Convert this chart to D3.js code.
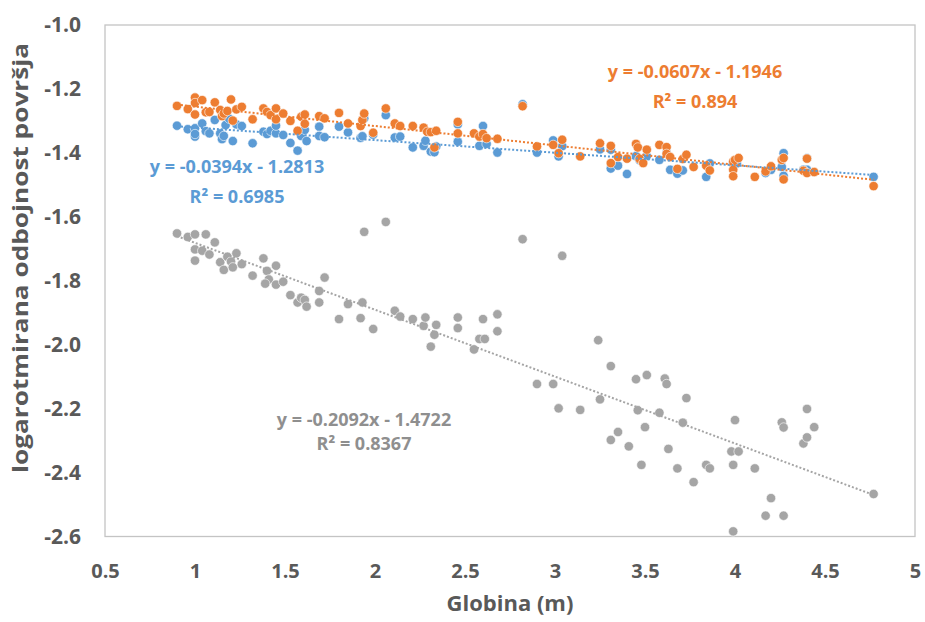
<!DOCTYPE html>
<html>
<head>
<meta charset="utf-8">
<script src="https://cdn.jsdelivr.net/npm/d3@7"></script>
<style>
    body { margin: 0; background: #fff; }
    text { font-family: "Open Sans", "DejaVu Sans", sans-serif; font-weight: 700; }
</style>
</head>
<body>
<script>
//wrap everything in a self-executing anonymous function to move to local scope
(function(){

    //pseudo-global variables: data
    var xTicks = [0.5, 1, 1.5, 2, 2.5, 3, 3.5, 4, 4.5, 5];
    var yTicks = [-1.0, -1.2, -1.4, -1.6, -1.8, -2.0, -2.2, -2.4, -2.6];

    //blue series (depth, value)
    var blueX = [0.90,0.96,1.00,1.00,1.00,1.04,1.06,1.08,1.11,1.14,1.15,1.16,1.17,1.19,1.21,1.23,1.26,1.32,1.38,1.40,
        1.42,1.45,1.45,1.49,1.53,1.57,1.59,1.61,1.62,1.69,1.69,1.72,1.80,1.85,1.92,1.93,1.94,1.99,2.06,2.11,
        2.14,2.21,2.27,2.28,2.31,2.33,2.34,2.46,2.46,2.58,2.60,2.62,2.68,2.82,2.90,2.99,3.04,3.02,3.25,3.31,
        3.31,3.35,3.40,3.45,3.47,3.51,3.58,3.62,3.64,3.68,3.71,3.84,3.86,3.99,4.01,4.17,4.20,4.26,4.27,4.27,
        4.40,4.40,4.38,4.77];
    var blueY = [-1.315,-1.326,-1.323,-1.349,-1.341,-1.308,-1.332,-1.339,-1.297,-1.339,-1.357,-1.347,-1.313,-1.293,-1.363,-1.311,-1.316,-1.370,-1.334,-1.341,
        -1.331,-1.339,-1.315,-1.344,-1.369,-1.393,-1.347,-1.328,-1.363,-1.318,-1.347,-1.351,-1.318,-1.336,-1.353,-1.348,-1.292,-1.343,-1.282,-1.352,
        -1.349,-1.383,-1.378,-1.362,-1.396,-1.398,-1.380,-1.365,-1.311,-1.378,-1.316,-1.372,-1.399,-1.248,-1.399,-1.361,-1.379,-1.411,-1.389,-1.390,
        -1.449,-1.440,-1.466,-1.410,-1.423,-1.410,-1.422,-1.400,-1.453,-1.465,-1.455,-1.475,-1.433,-1.433,-1.433,-1.463,-1.453,-1.444,-1.401,-1.472,
        -1.417,-1.453,-1.453,-1.475];

    //orange series
    var orangeX = [0.90,0.96,1.00,1.00,1.00,1.04,1.06,1.08,1.11,1.14,1.15,1.16,1.18,1.20,1.21,1.23,1.26,1.32,1.38,1.40,
        1.42,1.45,1.45,1.49,1.53,1.57,1.59,1.61,1.61,1.69,1.72,1.80,1.85,1.92,1.93,1.94,1.99,2.06,2.11,2.14,
        2.21,2.27,2.29,2.31,2.34,2.33,2.46,2.46,2.55,2.58,2.60,2.62,2.68,2.82,2.90,2.99,3.04,3.02,3.14,3.25,
        3.31,3.31,3.35,3.40,3.45,3.46,3.47,3.49,3.51,3.58,3.62,3.62,3.64,3.68,3.71,3.73,3.77,3.84,3.86,3.99,
        4.00,4.02,3.99,3.99,4.11,4.17,4.20,4.26,4.27,4.27,4.40,4.38,4.40,4.44,4.77];
    var orangeY = [-1.253,-1.263,-1.227,-1.244,-1.280,-1.235,-1.273,-1.272,-1.242,-1.266,-1.285,-1.277,-1.269,-1.233,-1.299,-1.264,-1.256,-1.295,-1.261,-1.272,
        -1.282,-1.261,-1.295,-1.277,-1.300,-1.331,-1.287,-1.280,-1.309,-1.285,-1.292,-1.275,-1.308,-1.316,-1.297,-1.277,-1.337,-1.261,-1.308,-1.316,
        -1.316,-1.321,-1.334,-1.335,-1.331,-1.383,-1.303,-1.339,-1.339,-1.349,-1.341,-1.354,-1.356,-1.254,-1.380,-1.375,-1.359,-1.401,-1.411,-1.370,
        -1.378,-1.432,-1.413,-1.418,-1.372,-1.383,-1.419,-1.432,-1.390,-1.375,-1.382,-1.403,-1.413,-1.450,-1.419,-1.406,-1.444,-1.440,-1.455,-1.427,
        -1.422,-1.416,-1.453,-1.473,-1.475,-1.458,-1.442,-1.422,-1.416,-1.483,-1.418,-1.456,-1.463,-1.460,-1.504];

    //gray series
    var grayX = [0.90,0.96,1.00,1.06,1.11,1.00,1.04,1.08,1.00,1.14,1.16,1.18,1.20,1.21,1.23,1.26,1.32,1.38,1.40,1.41,
        1.39,1.45,1.45,1.49,1.53,1.57,1.59,1.61,1.62,1.69,1.69,1.72,1.80,1.85,1.92,1.93,1.94,1.99,2.06,2.11,
        2.14,2.21,2.27,2.28,2.31,2.33,2.34,2.46,2.46,2.55,2.58,2.60,2.61,2.68,2.68,2.82,2.90,2.99,3.02,3.04,
        3.14,3.24,3.25,3.31,3.31,3.35,3.41,3.45,3.46,3.48,3.50,3.51,3.58,3.61,3.62,3.63,3.68,3.71,3.73,3.77,
        3.84,3.86,3.98,3.99,3.99,4.00,4.02,4.11,4.17,4.20,4.26,4.27,4.27,4.38,4.40,4.40,4.44,4.77];
    var grayY = [-1.652,-1.663,-1.655,-1.655,-1.680,-1.702,-1.706,-1.718,-1.737,-1.742,-1.766,-1.725,-1.740,-1.758,-1.714,-1.748,-1.784,-1.730,-1.769,-1.796,
        -1.809,-1.812,-1.753,-1.803,-1.845,-1.868,-1.853,-1.860,-1.881,-1.832,-1.868,-1.790,-1.920,-1.873,-1.917,-1.868,-1.647,-1.951,-1.616,-1.894,
        -1.912,-1.920,-1.941,-1.915,-2.006,-1.969,-1.938,-1.915,-1.948,-2.015,-1.982,-1.920,-1.982,-1.905,-1.958,-1.670,-2.123,-2.123,-2.199,-1.722,
        -2.204,-1.986,-2.171,-2.067,-2.298,-2.273,-2.318,-2.108,-2.205,-2.376,-2.258,-2.095,-2.213,-2.106,-2.123,-2.326,-2.387,-2.244,-2.167,-2.430,
        -2.376,-2.387,-2.334,-2.376,-2.584,-2.236,-2.334,-2.387,-2.535,-2.480,-2.243,-2.259,-2.535,-2.309,-2.201,-2.290,-2.258,-2.467];

    //linear trendlines (slope, intercept, r squared) in order blue, orange, gray
    var trendSlopes = [-0.0394, -0.0607, -0.2092];
    var trendIntercepts = [-1.2813, -1.1946, -1.4722];
    var trendR2 = ["0.6985", "0.894", "0.8367"];

    //begin script when window loads
    window.onload = setChart();

    function setChart(){

        //chart frame dimensions
        var width = 925,
            height = 622,
            plotLeft = 105,
            plotRight = 915,
            plotTop = 25,
            plotBottom = 536.5;

        var svg = d3.select("body")
            .append("svg")
            .attr("width", width)
            .attr("height", height);

        var xScale = d3.scaleLinear()
            .domain([0.5, 5])
            .range([plotLeft, plotRight]);

        var yScale = d3.scaleLinear()
            .domain([-1.0, -2.6])
            .range([plotTop, plotBottom]);

        //plot area frame
        svg.append("rect")
            .attr("x", plotLeft)
            .attr("y", plotTop)
            .attr("width", plotRight - plotLeft)
            .attr("height", plotBottom - plotTop)
            .style("fill", "none")
            .style("stroke", "#c4c4c4")
            .style("stroke-width", 1.3);

        //axes, labels only
        var yAxis = d3.axisLeft(yScale)
            .tickValues(yTicks)
            .tickSize(0)
            .tickPadding(24)
            .tickFormat(function(d){ return d.toFixed(1); });

        var xAxis = d3.axisBottom(xScale)
            .tickValues(xTicks)
            .tickSize(0)
            .tickPadding(27)
            .tickFormat(function(d){ return String(d); });

        var gy = svg.append("g")
            .attr("transform", "translate(" + plotLeft + ",0)")
            .call(yAxis);

        var gx = svg.append("g")
            .attr("transform", "translate(0," + plotBottom + ")")
            .call(xAxis);

        [gx, gy].forEach(function(g){
            g.select(".domain").remove();
            g.selectAll("text")
                .style("font-family", "'Open Sans', sans-serif")
                .style("font-weight", 700)
                .style("font-size", "20px")
                .style("fill", "#595959");
        });
        gy.selectAll("text").style("font-size", "21px");

        //axis titles
        svg.append("text")
            .attr("x", (plotLeft + plotRight) / 2)
            .attr("y", 611)
            .attr("text-anchor", "middle")
            .style("font-size", "22px")
            .style("fill", "#595959")
            .text("Globina (m)");

        svg.append("text")
            .attr("transform", "translate(28,258) rotate(-90)")
            .attr("text-anchor", "middle")
            .attr("textLength", 430)
            .attr("lengthAdjust", "spacingAndGlyphs")
            .style("font-size", "21px")
            .style("fill", "#595959")
            .text("logarotmirana odbojnost površja");

        //series list
        var series = [
            {x: blueX, y: blueY, color: "#5B9BD5"},
            {x: orangeX, y: orangeY, color: "#ED7D31"},
            {x: grayX, y: grayY, color: "#A5A5A5"}
        ];

        //markers
        series.forEach(function(s){
            var pts = s.x.map(function(v, i){ return [v, s.y[i]]; });
            svg.append("g")
                .selectAll("circle")
                .data(pts)
                .enter()
                .append("circle")
                .attr("cx", function(d){ return xScale(d[0]); })
                .attr("cy", function(d){ return yScale(d[1]); })
                .attr("r", 4.7)
                .style("fill", s.color)
                .style("stroke", "#fff")
                .style("stroke-width", 0.6);
        });

        //dotted trendlines from min to max depth
        var line = d3.line()
            .x(function(d){ return xScale(d[0]); })
            .y(function(d){ return yScale(d[1]); });

        series.forEach(function(s, i){
            var x0 = d3.min(s.x), x1 = d3.max(s.x);
            var ends = [x0, x1].map(function(v){
                return [v, trendSlopes[i] * v + trendIntercepts[i]];
            });
            svg.append("path")
                .datum(ends)
                .attr("d", line)
                .style("fill", "none")
                .style("stroke", s.color)
                .style("stroke-width", 2)
                .style("stroke-dasharray", "2,2");
        });

        //trendline equations
        var labelPos = [[237, 173], [695, 78], [364, 426]];
        var labelColors = ["#5B9BD5", "#ED7D31", "#8f8f8f"];

        labelPos.forEach(function(p, i){
            var eq = "y = " + trendSlopes[i] + "x - " + Math.abs(trendIntercepts[i]);
            svg.append("text")
                .attr("x", p[0])
                .attr("y", p[1])
                .attr("text-anchor", "middle")
                .style("font-size", "18px")
                .style("fill", labelColors[i])
                .text(eq);
            svg.append("text")
                .attr("x", p[0])
                .attr("y", p[1] + (i == 2 ? 24 : 30))
                .attr("text-anchor", "middle")
                .style("font-size", "18px")
                .style("fill", labelColors[i])
                .text("R² = " + trendR2[i]);
        });
    };

})();
</script>
</body>
</html>
